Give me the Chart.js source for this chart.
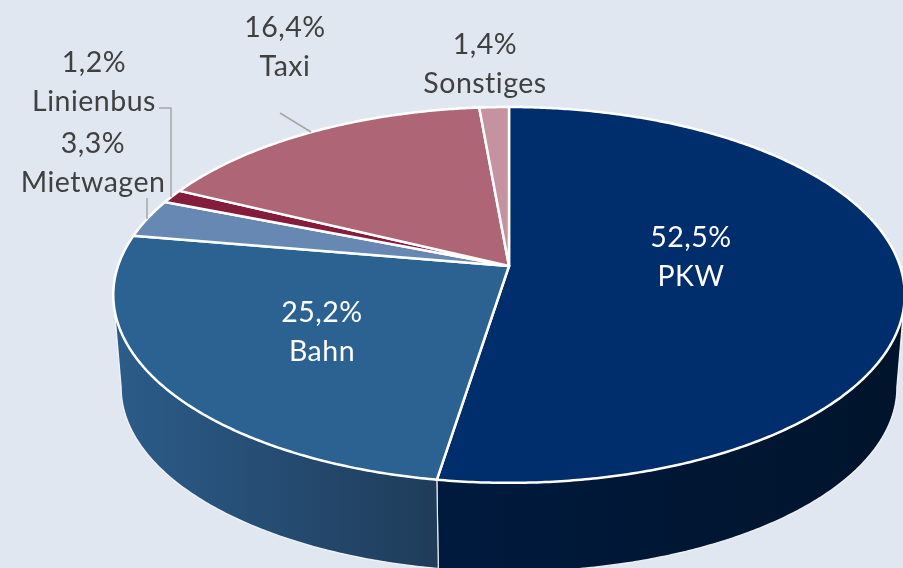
<!DOCTYPE html>
<html><head><meta charset="utf-8">
<style>html,body{margin:0;padding:0;background:#e1e7f1;width:903px;height:568px;overflow:hidden}canvas{display:block}</style>
<script src="https://cdn.jsdelivr.net/npm/chart.js@4"></script></head>
<body><canvas id="c" width="903" height="568"></canvas>
<script>
const categories = ['PKW','Bahn','Mietwagen','Linienbus','Taxi','Sonstiges'];
const shares = [52.5,25.2,3.3,1.2,16.4,1.4];
const shareLabels = ['52,5%','25,2%','3,3%','1,2%','16,4%','1,4%'];
const sliceColors = ['#002d6b','#2c6291','#6788b3','#841c3d','#ae6677','#c4939f'];
const wallStops = {0:['#001a3e','#00142b'],1:['#2c5c8a','#1f3c5a']};
const labelPos = [[691,237.5,'#fff'],[322,312.5,'#fff'],[93,143.5,'#404040'],[94,62.5,'#404040'],[285,27.5,'#404040'],[485,44.5,'#404040']];
const leaders = [[[280,113],[311,132]],[[159,108],[171,108],[171,197]],[[147,198],[147,219]]];

const CX=509,CY=266,A=391,B=142.5,K=0.154,DEPTH=93,SHRINK=0.98;
function proj(theta,bottom){
  const u=Math.sin(theta),v=-Math.cos(theta),d=1-K*v;
  const X=A*u/d, Y=(CY+B*v)/d-CY;
  return bottom?[CX+SHRINK*X,CY+SHRINK*Y+DEPTH]:[CX+X,CY+Y];
}
const VIS0=Math.acos(-K),VIS1=2*Math.PI-VIS0;
const STEP=Math.PI/360;
function arcPts(a,b,bottom){
  const n=Math.max(1,Math.ceil((b-a)/STEP)),p=[];
  for(let i=0;i<=n;i++)p.push(proj(a+(b-a)*i/n,bottom));
  return p;
}
const perspectivePie={
  id:'perspectivePie',
  beforeDatasetsDraw(chart){
    const ctx=chart.ctx,arcs=chart.getDatasetMeta(0).data;
    ctx.save();ctx.lineJoin='round';
    arcs.forEach((el,i)=>{
      const a=el.startAngle+Math.PI/2,b=el.endAngle+Math.PI/2;
      const s=Math.max(a,VIS0),e=Math.min(b,VIS1);
      if(e<=s)return;
      const top=arcPts(s,e,false),bot=arcPts(s,e,true).reverse();
      const g=ctx.createLinearGradient(i===0?437:113,0,i===0?903:437,0);
      g.addColorStop(0,wallStops[i][0]);g.addColorStop(1,wallStops[i][1]);
      ctx.beginPath();top.concat(bot).forEach((p,j)=>j?ctx.lineTo(p[0],p[1]):ctx.moveTo(p[0],p[1]));ctx.closePath();
      ctx.fillStyle=g;ctx.fill();
      ctx.strokeStyle='rgba(255,255,255,.85)';ctx.lineWidth=1.2;ctx.stroke();
    });
    arcs.forEach(el=>{
      const a=el.startAngle+Math.PI/2,b=el.endAngle+Math.PI/2;
      ctx.beginPath();ctx.moveTo(CX,CY);
      arcPts(a,b,false).forEach(p=>ctx.lineTo(p[0],p[1]));ctx.closePath();
      ctx.fillStyle=el.options.backgroundColor;ctx.fill();
      ctx.strokeStyle='#fff';ctx.lineWidth=2.5;ctx.stroke();
    });
    ctx.restore();
    return false;
  },
  afterDraw(chart){
    const ctx=chart.ctx;ctx.save();
    ctx.strokeStyle='#a6a6a6';ctx.lineWidth=1.5;
    leaders.forEach(l=>{ctx.beginPath();l.forEach((p,j)=>j?ctx.lineTo(p[0],p[1]):ctx.moveTo(p[0],p[1]));ctx.stroke();});
    ctx.font='28.5px Lato';ctx.textAlign='center';ctx.textBaseline='middle';
    ctx.letterSpacing='0.5px';
    categories.forEach((c,i)=>{
      const [x,y,col]=labelPos[i];
      ctx.fillStyle=col;
      ctx.fillText(shareLabels[i],x,y);
      ctx.fillText(c,x,y+39);
    });
    ctx.restore();
  }
};
new Chart(document.getElementById('c'),{
  type:'pie',
  data:{labels:categories,datasets:[{data:shares,backgroundColor:sliceColors,borderColor:'#fff',borderWidth:2}]},
  options:{responsive:false,animation:false,events:[],rotation:0,
    plugins:{legend:{display:false},tooltip:{enabled:false}}},
  plugins:[perspectivePie]
});
</script></body></html>
